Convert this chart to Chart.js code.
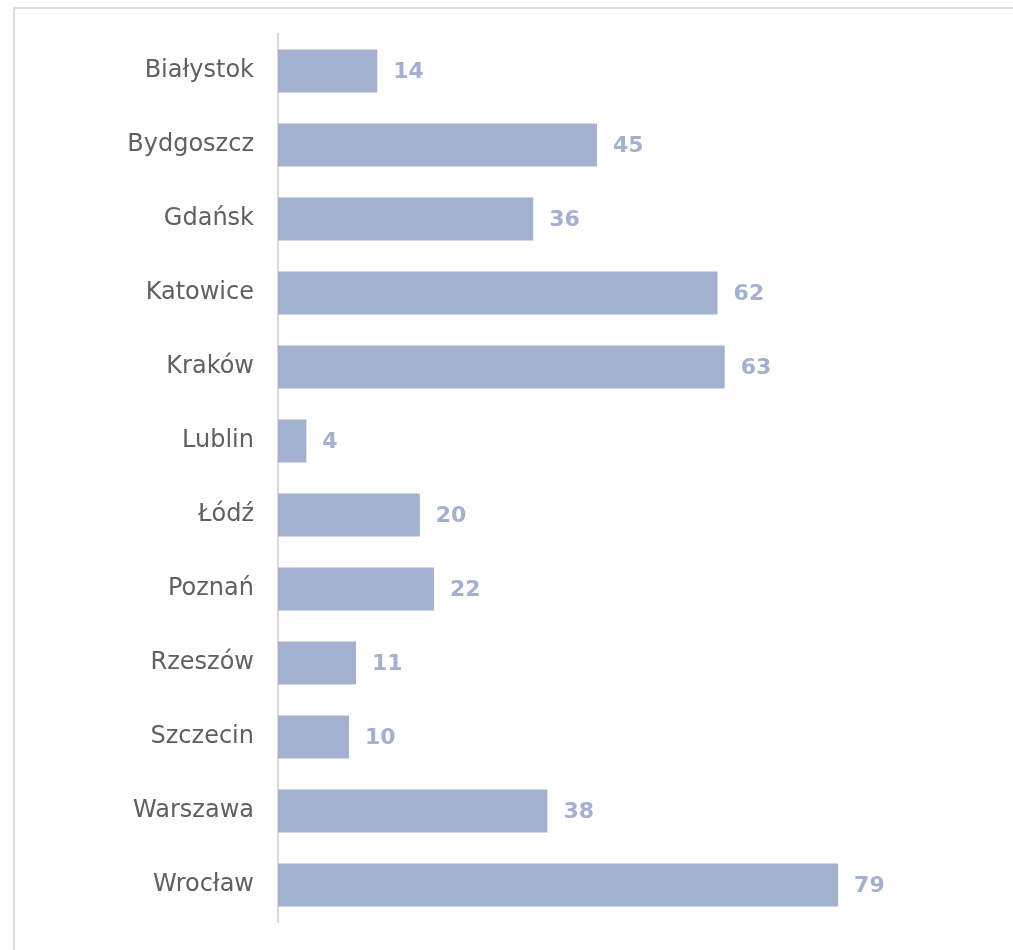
<!DOCTYPE html>
<html>
<head>
<meta charset="utf-8">
<script src="https://cdn.jsdelivr.net/npm/chart.js@4"></script>
<style>
  html, body { margin: 0; padding: 0; background: #fff; }
  body { width: 1013px; height: 950px; position: relative; overflow: hidden; }
  #frame { position: absolute; left: 13px; top: 7px; width: 1100px; height: 1000px;
           border-top: 2px solid #dcdcdc; border-left: 2px solid #dcdcdc; }
  #wrap { position: absolute; left: 0; top: 0; width: 1013px; height: 950px; }
</style>
</head>
<body>
<div id="frame"></div>
<div id="wrap"><canvas id="c" width="1013" height="950"></canvas></div>
<script>
const categories = ["Białystok", "Bydgoszcz", "Gdańsk", "Katowice", "Kraków", "Lublin", "Łódź", "Poznań", "Rzeszów", "Szczecin", "Warszawa", "Wrocław"];
const values = [14, 45, 36, 62, 63, 4, 20, 22, 11, 10, 38, 79];

const barColor = "#a3b0cf";
const labelColor = "#a3b0cf";
const fontFamily = "'DejaVu Sans', sans-serif";

const valueLabels = {
  id: 'valueLabels',
  afterDatasetsDraw(chart) {
    const ctx = chart.ctx;
    const meta = chart.getDatasetMeta(0);
    ctx.save();
    ctx.fillStyle = labelColor;
    ctx.font = "bold 22px " + fontFamily;
    ctx.textAlign = 'left';
    ctx.textBaseline = 'middle';
    meta.data.forEach((el, i) => {
      ctx.fillText(String(values[i]), el.x + 16, el.y + 1);
    });
    ctx.restore();
  }
};

new Chart(document.getElementById('c'), {
  type: 'bar',
  data: {
    labels: categories,
    datasets: [{
      data: values,
      backgroundColor: barColor,
      borderWidth: 0,
      barPercentage: 0.58,
      categoryPercentage: 1.0
    }]
  },
  options: {
    indexAxis: 'y',
    responsive: false,
    animation: false,
    layout: { padding: { top: 34, bottom: 28, right: 26, left: 0 } },
    plugins: { legend: { display: false }, tooltip: { enabled: false } },
    scales: {
      x: { display: false, min: 0, max: 100 },
      y: {
        afterFit(scale) { scale.width = 278; scale.paddingTop = 0; scale.paddingBottom = 0; },
        grid: { display: false, drawTicks: false },
        border: { display: true, color: '#d9d9d9', width: 2 },
        ticks: { color: '#606060', font: { family: fontFamily, size: 24 }, padding: 24 }
      }
    }
  },
  plugins: [valueLabels]
});
</script>
</body>
</html>
